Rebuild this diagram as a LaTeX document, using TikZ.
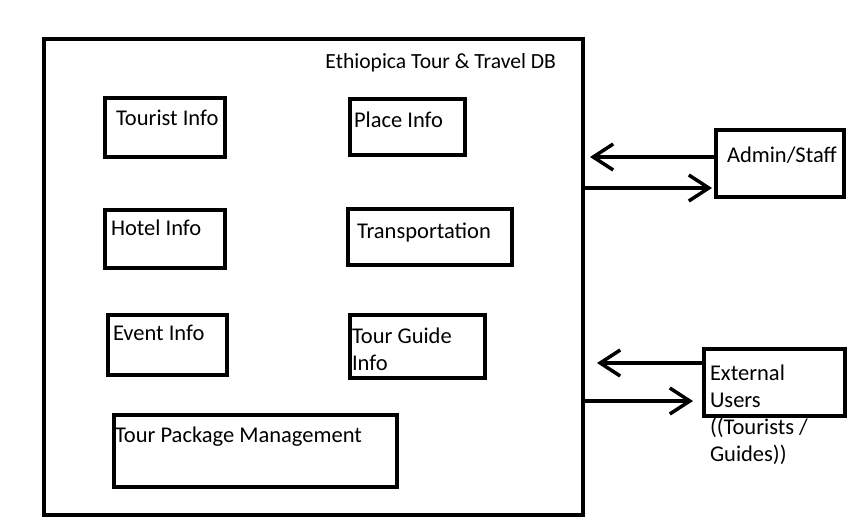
\documentclass[tikz,border=0pt]{standalone}
\usepackage{fontspec}
\setmainfont{Carlito}
\usetikzlibrary{arrows.meta}
\begin{document}
\begin{tikzpicture}[x=1pt,y=-1pt,
  box/.style={draw, line width=4pt, inner sep=0pt, outer sep=0pt, anchor=north west},
  txt/.style={inner sep=0pt, outer sep=0pt, anchor=base west, align=left, font=\fontsize{22.5}{27}\selectfont},
  arr/.style={line width=3.5pt, -{Straight Barb[length=20pt,width=26pt]}}
]
\useasboundingbox[fill=white] (0,0) rectangle (867,520);

% outer database box
\node[box, minimum width=539pt, minimum height=476pt] (db) at (44,39) {};
\node[txt, anchor=base east, font=\fontsize{21.6}{26}\selectfont] (title) at (556,68) {Ethiopica Tour \& Travel DB};

% inner boxes
\node[box, minimum width=120pt, minimum height=59pt] (tourist) at (105,98) {};
\node[txt] (touristtxt) at (116,125) {Tourist Info};

\node[box, minimum width=115pt, minimum height=56pt] (place) at (350,99) {};
\node[txt] (placetxt) at (354,127) {Place Info};

\node[box, minimum width=120pt, minimum height=58pt] (hotel) at (105,210) {};
\node[txt] (hoteltxt) at (111,235) {Hotel Info};

\node[box, minimum width=164pt, minimum height=56pt] (transport) at (348,209) {};
\node[txt] (transporttxt) at (357,238) {Transportation};

\node[box, minimum width=119pt, minimum height=60pt] (event) at (108,315) {};
\node[txt] (eventtxt) at (113,340) {Event Info};

\node[box, minimum width=135pt, minimum height=63pt] (guide) at (350,315) {};
\node[txt] (guidetxt) at (352,370) {Tour Guide\\Info};

\node[box, minimum width=283pt, minimum height=72pt] (package) at (114,415) {};
\node[txt] (packagetxt) at (115,442) {Tour Package Management};

% external actors
\node[box, minimum width=128pt, minimum height=67pt] (admin) at (716,130) {};
\node[txt] (admintxt) at (727,162) {Admin/Staff};

\node[box, minimum width=141pt, minimum height=67pt] (ext) at (704,349) {};
\node[txt] (exttxt) at (710,461) {External\\Users\\((Tourists /\\Guides))};

% connectors
\draw[arr] (admin.west |- 0,157) -- ([xshift=7pt]db.east |- 0,157);
\draw[arr] (db.east |- 0,188) -- ([xshift=-4pt]admin.west |- 0,188);
\draw[arr] (ext.west |- 0,363) -- ([xshift=14pt]db.east |- 0,363);
\draw[arr] (db.east |- 0,401) -- ([xshift=-11pt]ext.west |- 0,401);
\end{tikzpicture}
\end{document}
